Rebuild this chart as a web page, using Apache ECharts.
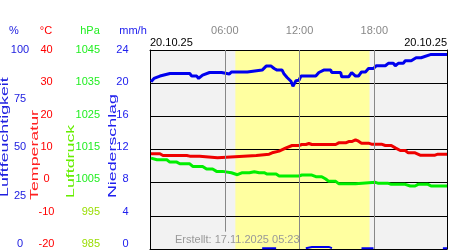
<!DOCTYPE html>
<html>
<head>
<meta charset="utf-8">
<script src="https://cdn.jsdelivr.net/npm/echarts@6/dist/echarts.min.js"></script>
<style>html,body{margin:0;padding:0;background:#fff}#c{width:450px;height:250px}</style>
</head>
<body>
<div id="c"></div>
<script>
// ---- data (hours of day 20.10.25) ----
const humTimes = [0.08,0.32,0.8,1.6,3.19,3.35,3.75,3.9,4.22,4.78,5.74,5.82,6.37,6.53,7.81,7.97,9.0,9.32,9.72,9.96,10.2,10.6,10.76,11.0,11.31,11.47,11.71,11.95,12.11,13.3,13.55,13.94,14.5,14.58,15.3,15.38,15.94,16.18,16.49,16.73,16.97,17.29,17.53,17.93,18.17,18.88,19.12,19.52,19.68,19.92,20.32,20.48,20.96,21.35,21.75,22.55,23.83];
const humValues = [84.0,85.7,86.9,88.2,88.2,86.9,86.9,85.7,87.4,88.7,88.7,87.9,87.9,89.0,89.0,89.9,89.9,91.9,91.9,90.7,89.9,89.9,87.9,86.2,84.3,81.8,84.5,84.8,86.9,86.9,88.7,89.9,89.9,88.7,88.7,86.5,86.5,88.7,86.9,86.9,89.0,89.0,90.7,90.7,92.1,92.1,93.3,93.3,92.1,93.3,93.3,94.6,94.6,96.1,96.1,97.8,97.8];

const tempTimes = [0.08,0.8,1.04,2.95,3.03,3.19,3.98,4.14,5.42,5.58,7.17,7.33,8.53,8.61,9.56,9.8,10.36,10.92,11.4,11.95,12.19,12.51,12.75,12.99,14.9,15.14,15.7,15.94,16.18,16.49,16.73,16.97,17.53,17.77,18.57,18.88,19.36,19.68,20.08,20.48,20.72,21.27,21.67,22.87,23.1,23.83];
const tempValues = [8.7,8.7,8.2,8.2,8.5,8.0,8.0,7.5,7.5,7.9,7.9,8.2,8.2,8.6,8.6,9.0,9.5,10.5,11.2,11.2,11.5,11.5,11.8,11.5,11.5,12.0,12.0,12.4,12.4,12.9,12.5,11.9,11.9,11.6,11.6,11.2,11.2,10.5,9.7,9.7,9.0,9.0,8.3,8.3,8.6,8.6];

const presTimes = [0.08,0.24,0.56,1.35,1.59,2.15,2.39,3.19,3.43,4.22,4.54,5.02,5.34,5.82,5.98,6.53,6.61,7.01,7.41,7.97,8.37,8.76,9.16,9.4,10.12,10.36,11.95,12.19,12.99,13.31,13.78,14.1,14.34,14.9,15.14,16.49,16.57,18.09,18.33,19.12,19.36,20.48,20.88,21.27,21.51,22.31,22.55,23.83];
const presValues = [1012.4,1012.4,1011.9,1011.9,1011.2,1011.2,1010.7,1010.7,1009.9,1009.9,1009.1,1009.1,1008.4,1008.4,1008.0,1008.0,1008.5,1007.4,1008.0,1008.0,1008.3,1008.0,1008.0,1007.6,1007.6,1007.0,1007.0,1007.3,1007.3,1006.8,1006.8,1006.1,1005.4,1005.4,1004.7,1004.7,1005.1,1005.1,1004.8,1004.8,1004.5,1004.5,1004.0,1004.0,1004.5,1004.5,1004.0,1004.0];

const rainTimes = [9.0,10.12,10.2,12.5,13.0,14.34,14.6,14.7,16.97,17.93,18.0,23.5,23.83];
const rainValues = [0.1,0.1,null,0.1,0.25,0.25,0.1,null,0.1,0.1,null,0.1,0.1];

const daylight = [6.85, 17.61];
const hourLines = [6, 12, 18];
const dateLabel = '20.10.25';
const createdLabel = 'Erstellt: 17.11.2025 05:23';
const unitLabels = ['%', '°C', 'hPa', 'mm/h'];
const axisNames = ['Luftfeuchtigkeit', 'Temperatur', 'Luftdruck', 'Niederschlag'];

const XMAX = 23.83;
const FONT = '"Liberation Sans", Arial, sans-serif';
const pair = (t, v) => t.map((x, i) => [x, v[i]]);
const pad = h => (h < 10 ? '0' : '') + h + ':00';

const chart = echarts.init(document.getElementById('c'), null, {renderer: 'canvas'});

const hidden = {show: false};
const labelAxis = (min, max, interval, offset, color, align, fmt) => ({
  gridIndex: 1, type: 'value', min, max, interval, position: 'left', offset,
  axisLine: hidden, axisTick: hidden, splitLine: hidden,
  axisLabel: {show: true, color, fontSize: 11, fontFamily: FONT, margin: 8, align,
    formatter: fmt || (v => String(v)), rich: fmt ? {
      g: {color: '#22ee22', fontSize: 11, fontFamily: FONT},
      y: {color: '#99dd00', fontSize: 11, fontFamily: FONT}
    } : undefined}
});

const option = {
  animation: false,
  backgroundColor: '#ffffff',
  grid: [
    {left: 150, top: 50, width: 299, height: 199, show: true, backgroundColor: '#f2f2f2', borderWidth: 0, z: 0},
    {left: 150, top: 50, width: 299, height: 194, show: false}
  ],
  xAxis: [
    {gridIndex: 0, type: 'value', min: 0, max: XMAX, position: 'bottom', z: 2,
     axisLine: {show: true, onZero: false, lineStyle: {color: '#000', width: 1}},
     axisTick: hidden, axisLabel: hidden, splitLine: hidden},
    {gridIndex: 1, type: 'value', min: 0, max: XMAX, show: false},
    {gridIndex: 0, type: 'value', min: 0, max: XMAX, interval: 6, position: 'top', z: 2,
     axisLine: {show: true, onZero: false, lineStyle: {color: '#000', width: 1}},
     axisTick: hidden, splitLine: hidden,
     axisLabel: {show: true, color: '#888888', fontSize: 11, fontFamily: FONT, margin: 19,
       verticalAlign: 'middle',
       formatter: v => (hourLines.indexOf(v) >= 0 ? pad(v) : '')}}
  ],
  yAxis: [
    {gridIndex: 0, type: 'value', min: 0, max: 100, position: 'left', z: 2,
     axisLine: {show: true, onZero: false, lineStyle: {color: '#000', width: 1}},
     axisTick: hidden, axisLabel: hidden, splitLine: hidden},
    {gridIndex: 0, type: 'value', min: -20, max: 40, interval: 10, position: 'left', z: 2,
     axisLine: hidden, axisTick: hidden, axisLabel: hidden,
     splitLine: {show: true, lineStyle: {color: '#000', width: 1}}},
    {gridIndex: 0, type: 'value', min: 985, max: 1045, position: 'left', show: false},
    {gridIndex: 0, type: 'value', min: 0, max: 24, position: 'right', z: 2,
     axisLine: {show: true, onZero: false, lineStyle: {color: '#000', width: 1}},
     axisTick: hidden, axisLabel: hidden, splitLine: hidden},
    labelAxis(0, 100, 25, 122, '#2020e0', 'center'),
    labelAxis(-20, 40, 10, 95.5, '#ff0000', 'center'),
    labelAxis(985, 1045, 10, 42, '#22ee22', 'right', v => (v >= 1005 ? '{g|' + v + '}' : '{y|' + v + '}')),
    labelAxis(0, 24, 4, 13.5, '#2020ee', 'right')
  ],
  series: [
    {type: 'line', xAxisIndex: 0, yAxisIndex: 0, data: [], z: 1, silent: true, symbol: 'none',
     markArea: {silent: true, itemStyle: {color: '#ffffa0'},
       data: [[{xAxis: daylight[0]}, {xAxis: daylight[1]}]]},
     markLine: {silent: true, symbol: 'none', label: hidden,
       lineStyle: {color: '#888888', width: 1, type: 'solid'},
       data: [
         [{coord: [hourLines[0], 100]}, {coord: [hourLines[0], 8.7]}],
         [{coord: [hourLines[1], 0]}, {coord: [hourLines[1], 100]}],
         [{coord: [hourLines[2], 0]}, {coord: [hourLines[2], 100]}]
       ]}},
    {type: 'line', name: 'Luftdruck', xAxisIndex: 0, yAxisIndex: 2, data: pair(presTimes, presValues),
     symbol: 'none', z: 3, lineStyle: {color: '#00ee00', width: 3}},
    {type: 'line', name: 'Temperatur', xAxisIndex: 0, yAxisIndex: 1, data: pair(tempTimes, tempValues),
     symbol: 'none', z: 3, lineStyle: {color: '#ee0000', width: 3}},
    {type: 'line', name: 'Luftfeuchtigkeit', xAxisIndex: 0, yAxisIndex: 0, data: pair(humTimes, humValues),
     symbol: 'none', z: 3, lineStyle: {color: '#0000ee', width: 3}},
    {type: 'line', name: 'Niederschlag', xAxisIndex: 0, yAxisIndex: 3, data: pair(rainTimes, rainValues),
     symbol: 'none', z: 3, connectNulls: false, lineStyle: {color: '#0000ee', width: 2}}
  ],
  graphic: [
    {type: 'text', x: 14, y: 31, style: {text: unitLabels[0], fill: '#2020e0', font: '11px ' + FONT, align: 'center', verticalAlign: 'middle', textAlign: 'center', textVerticalAlign: 'middle'}},
    {type: 'text', x: 46, y: 31, style: {text: unitLabels[1], fill: '#ff0000', font: '11px ' + FONT, align: 'center', verticalAlign: 'middle', textAlign: 'center', textVerticalAlign: 'middle'}},
    {type: 'text', x: 90, y: 31, style: {text: unitLabels[2], fill: '#22ee22', font: '11px ' + FONT, align: 'center', verticalAlign: 'middle', textAlign: 'center', textVerticalAlign: 'middle'}},
    {type: 'text', x: 133, y: 31, style: {text: unitLabels[3], fill: '#2020ee', font: '11px ' + FONT, align: 'center', verticalAlign: 'middle', textAlign: 'center', textVerticalAlign: 'middle'}},
    {type: 'text', x: 150, y: 43, style: {text: dateLabel, fill: '#000', font: '11px ' + FONT, align: 'left', verticalAlign: 'middle', textAlign: 'left', textVerticalAlign: 'middle'}},
    {type: 'text', x: 447, y: 43, style: {text: dateLabel, fill: '#000', font: '11px ' + FONT, align: 'right', verticalAlign: 'middle', textAlign: 'right', textVerticalAlign: 'middle'}},
    {type: 'text', x: 175, y: 240, z: 10, style: {text: createdLabel, fill: '#999999', font: '11px ' + FONT, align: 'left', verticalAlign: 'middle', textAlign: 'left', textVerticalAlign: 'middle'}},
    {type: 'text', x: 5.5, y: 197, rotation: Math.PI / 2, scaleX: 1.78, style: {text: axisNames[0], fill: '#2020e0', font: '10px ' + FONT, align: 'left', verticalAlign: 'middle', textAlign: 'left', textVerticalAlign: 'middle'}},
    {type: 'text', x: 35, y: 200, rotation: Math.PI / 2, scaleX: 1.78, style: {text: axisNames[1], fill: '#ff2020', font: '10px ' + FONT, align: 'left', verticalAlign: 'middle', textAlign: 'left', textVerticalAlign: 'middle'}},
    {type: 'text', x: 71.5, y: 198, rotation: Math.PI / 2, scaleX: 1.78, style: {text: axisNames[2], fill: '#66ee00', font: '10px ' + FONT, align: 'left', verticalAlign: 'middle', textAlign: 'left', textVerticalAlign: 'middle'}},
    {type: 'text', x: 113, y: 198, rotation: Math.PI / 2, scaleX: 1.78, style: {text: axisNames[3], fill: '#2020ee', font: '10px ' + FONT, align: 'left', verticalAlign: 'middle', textAlign: 'left', textVerticalAlign: 'middle'}}
  ]
};
chart.setOption(option);
</script>
</body>
</html>
